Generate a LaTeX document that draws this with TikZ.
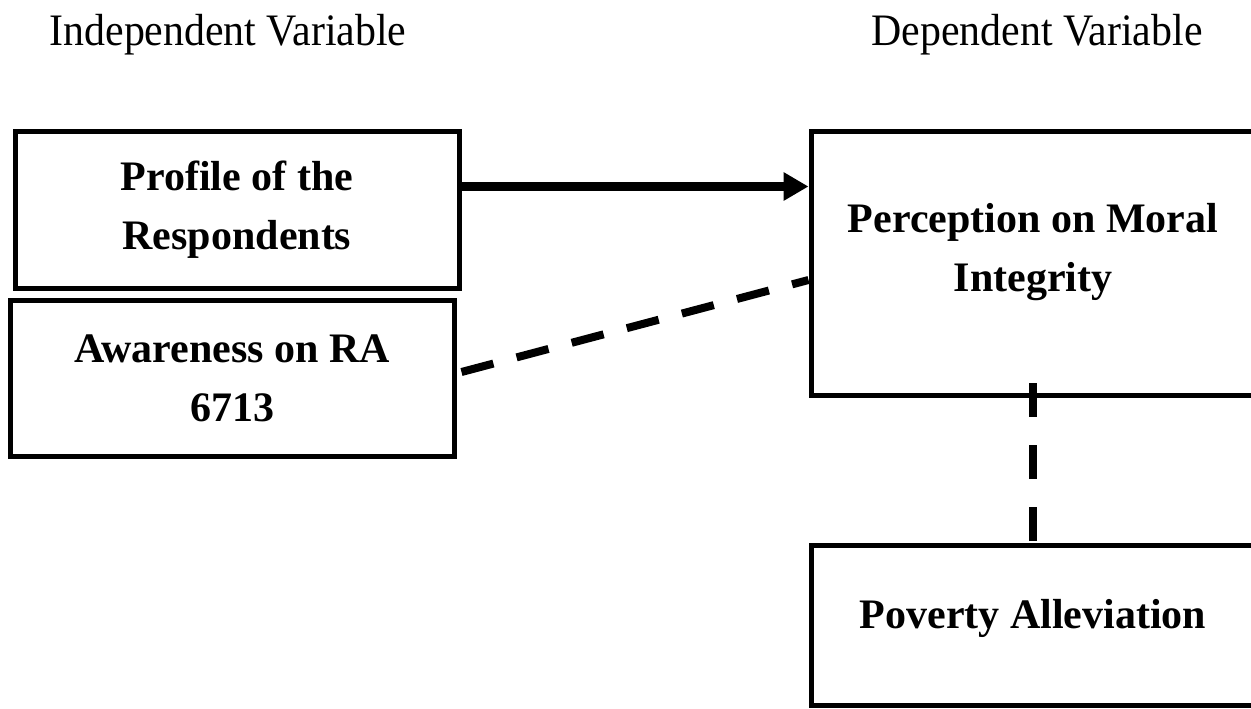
\documentclass[tikz,border=0pt]{standalone}
\usepackage{graphicx}
\usepackage{fontspec}
\setmainfont{Liberation Serif}
\usetikzlibrary{arrows.meta}
\tikzset{
  boxtext/.style={align=center, font=\fontsize{21}{29.5}\selectfont\bfseries},
  varbox/.style={boxtext, draw, line width=2.5pt, minimum width=222pt},
  headtext/.style={anchor=base, font=\fontsize{22.5}{27}\selectfont},
  dashlink/.style={line width=4pt, dash pattern=on 16.5pt off 12pt},
  vlink/.style={line width=4pt, dash pattern=on 17pt off 14pt}
}
\begin{document}
\begin{tikzpicture}[x=0.5pt,y=-0.5pt]
\useasboundingbox (0,0) rectangle (1251,708);

\node[headtext] (indep) at (228,45) {\scalebox{0.93}[1]{Independent Variable}};
\node[headtext] (dep) at (1037,45) {\scalebox{0.93}[1]{Dependent Variable}};

\node[varbox, minimum height=78.5pt] (profile) at (237,209.5) {Profile of the\\Respondents};
\node[varbox, minimum height=78pt] (aware) at (232,378) {Awareness on RA\\6713};
\node[varbox, minimum height=132pt, label={[boxtext,yshift=5.5pt]center:Perception on Moral\\Integrity}] (percep) at (1033,263) {};
\node[varbox, minimum height=80pt, label={[boxtext,yshift=3.5pt]center:Poverty Alleviation}] (poverty) at (1033,625) {};

\coordinate (arrowstart) at ([yshift=11.5pt]profile.east);
\draw[line width=4.5pt, -{Triangle[length=12.5pt,width=13.5pt]}] (arrowstart) -- (arrowstart -| percep.west);
\draw[dashlink] ([xshift=2.5pt,yshift=3pt]aware.east) -- ([yshift=-8.5pt]percep.west);
\draw[vlink] ([yshift=7.25pt]percep.south) -- (poverty.north);
\end{tikzpicture}
\end{document}
